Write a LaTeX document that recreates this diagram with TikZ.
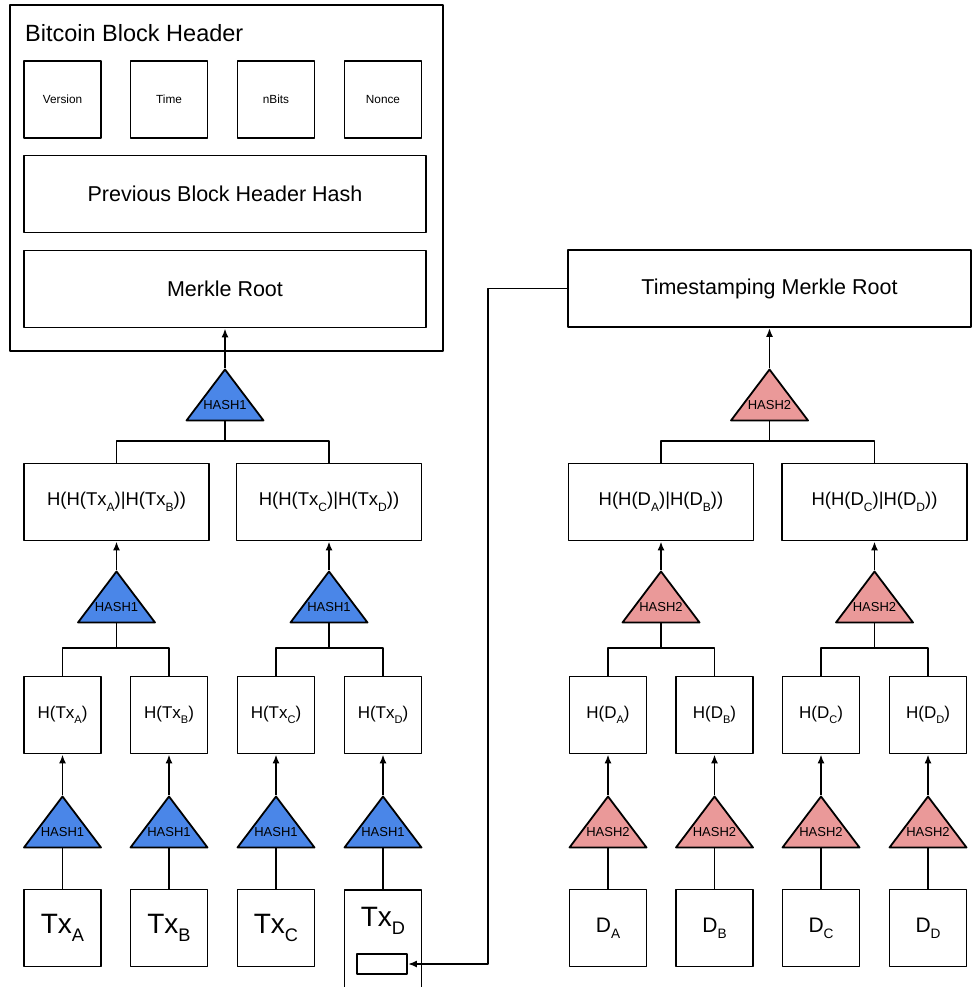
\documentclass[tikz,border=0pt]{standalone}
\usepackage{fontspec}
\usepackage{graphicx}
\setmainfont{Liberation Sans}
\usetikzlibrary{arrows.meta, positioning, shapes.geometric}

\definecolor{hashblue}{HTML}{4A86E8}
\definecolor{hashred}{HTML}{EA9999}
\newcommand{\lowsub}[1]{\raisebox{-0.3em}{\scalebox{0.65}{#1}}}

\begin{document}
\begin{tikzpicture}[x=1pt, y=-1pt, line join=round,
    box/.style={draw, line width=1.8pt, inner sep=0pt, minimum width=77pt, minimum height=77pt},
    widebox/.style={box, minimum width=402pt, font=\fontsize{21.5}{24}\selectfont},
    pairbox/.style={box, minimum width=185pt, font=\fontsize{18.5}{20}\selectfont},
    leafbox/.style={box, font=\fontsize{17}{19}\selectfont},
    hashtri/.style={draw, line width=1.8pt, isosceles triangle, shape border rotate=90,
      isosceles triangle apex angle=74, isosceles triangle stretches,
      minimum width=77pt, minimum height=51pt, inner sep=0pt, anchor=apex,
      text height=0pt, text depth=4.6pt, font=\fontsize{13}{14}\selectfont},
    hashone/.style={hashtri, fill=hashblue},
    hashtwo/.style={hashtri, fill=hashred},
    link/.style={line width=1.8pt},
    arr/.style={link, -{Latex[length=9pt, width=7pt]}}]
  \useasboundingbox (0,0) rectangle (972,987);

  % Bitcoin Block Header
  \node[draw, line width=1.8pt, minimum width=433pt, minimum height=346pt] (header) at (226.5,178) {};
  \node[anchor=base west, inner sep=0pt, font=\fontsize{23.5}{26}\selectfont] (title) at (25,42) {Bitcoin Block Header};
  \node[box, font=\fontsize{11.8}{13}\selectfont] (version) at (62.5,99.5) {Version};
  \node[box, font=\fontsize{11.8}{13}\selectfont] (time) at (169,99.5) {Time};
  \node[box, font=\fontsize{11.8}{13}\selectfont] (nbits) at (276,99.5) {nBits};
  \node[box, font=\fontsize{11.8}{13}\selectfont] (nonce) at (383,99.5) {Nonce};
  \node[widebox] (prevhash) at (225,194) {Previous Block Header Hash};
  \node[widebox] (merkle) at (225,289) {Merkle Root};

  % Transaktions-Baum (HASH1)
  \node[hashone] (h0) at (225,368) {HASH1};
  \node[pairbox] (hab) at (116.5,502) {H(H(Tx\lowsub{A})|H(Tx\lowsub{B}))};
  \node[pairbox] (hcd) at (329,502) {H(H(Tx\lowsub{C})|H(Tx\lowsub{D}))};
  \node[hashone] (h1) at (116.5,570) {HASH1};
  \node[hashone] (h2) at (329,570) {HASH1};
  \node[leafbox] (ha) at (62.5,715) {H(Tx\lowsub{A})};
  \node[leafbox] (hb) at (169,715) {H(Tx\lowsub{B})};
  \node[leafbox] (hc) at (276,715) {H(Tx\lowsub{C})};
  \node[leafbox] (hd) at (383,715) {H(Tx\lowsub{D})};
  \node[hashone] (h3) at (62.5,795) {HASH1};
  \node[hashone] (h4) at (169,795) {HASH1};
  \node[hashone] (h5) at (276,795) {HASH1};
  \node[hashone] (h6) at (383,795) {HASH1};
  \node[box, font=\fontsize{28}{30}\selectfont] (txa) at (62.5,928) {Tx\lowsub{A}};
  \node[box, font=\fontsize{28}{30}\selectfont] (txb) at (169,928) {Tx\lowsub{B}};
  \node[box, font=\fontsize{28}{30}\selectfont] (txc) at (276,928) {Tx\lowsub{C}};
  \node[box, minimum height=110pt, anchor=north] (txd) at (383,889) {};
  \node[font=\fontsize{28}{30}\selectfont] (txdlab) at (383,921) {Tx\lowsub{D}};
  \node[draw, line width=1.8pt, minimum width=50pt, minimum height=20pt, inner sep=0pt] (slot) at (382,964) {};

  % Zeitstempel-Baum (HASH2)
  \node[widebox, minimum width=403pt] (tsroot) at (769.5,288.5) {Timestamping Merkle Root};
  \node[hashtwo] (g0) at (769.5,368) {HASH2};
  \node[pairbox] (dab) at (661,502) {H(H(D\lowsub{A})|H(D\lowsub{B}))};
  \node[pairbox] (dcd) at (874.5,502) {H(H(D\lowsub{C})|H(D\lowsub{D}))};
  \node[hashtwo] (g1) at (661,570) {HASH2};
  \node[hashtwo] (g2) at (874.5,570) {HASH2};
  \node[leafbox] (da) at (608,715) {H(D\lowsub{A})};
  \node[leafbox] (db) at (714.5,715) {H(D\lowsub{B})};
  \node[leafbox] (dc) at (821,715) {H(D\lowsub{C})};
  \node[leafbox] (dd) at (928,715) {H(D\lowsub{D})};
  \node[hashtwo] (g3) at (608,795) {HASH2};
  \node[hashtwo] (g4) at (714.5,795) {HASH2};
  \node[hashtwo] (g5) at (821,795) {HASH2};
  \node[hashtwo] (g6) at (928,795) {HASH2};
  \node[box, font=\fontsize{21}{24}\selectfont] (dataa) at (608,928) {D\lowsub{A}};
  \node[box, font=\fontsize{21}{24}\selectfont] (datab) at (714.5,928) {D\lowsub{B}};
  \node[box, font=\fontsize{21}{24}\selectfont] (datac) at (821,928) {D\lowsub{C}};
  \node[box, font=\fontsize{21}{24}\selectfont] (datad) at (928,928) {D\lowsub{D}};

  % Verzweigungen
  \coordinate (j0) at (225,441);
  \coordinate (j1) at (116.5,648);
  \coordinate (j2) at (329,648);
  \coordinate (k0) at (769.5,441);
  \coordinate (k1) at (661,648);
  \coordinate (k2) at (874.5,648);
  \coordinate (bend) at (488,964);

  % Verbindungen links
  \draw[arr] (h0.apex) -- (merkle.south);
  \draw[link] (h0.lower side) -- (j0);
  \draw[link] (hab.north) |- (j0) -| (hcd.north);
  \draw[arr] (h1.apex) -- (hab.south);
  \draw[arr] (h2.apex) -- (hcd.south);
  \draw[link] (h1.lower side) -- (j1);
  \draw[link] (h2.lower side) -- (j2);
  \draw[link] (ha.north) |- (j1) -| (hb.north);
  \draw[link] (hc.north) |- (j2) -| (hd.north);
  \draw[arr] (h3.apex) -- (ha.south);
  \draw[arr] (h4.apex) -- (hb.south);
  \draw[arr] (h5.apex) -- (hc.south);
  \draw[arr] (h6.apex) -- (hd.south);
  \draw[link] (h3.lower side) -- (txa.north);
  \draw[link] (h4.lower side) -- (txb.north);
  \draw[link] (h5.lower side) -- (txc.north);
  \draw[link] (h6.lower side) -- (txd.north);

  % Verbindungen rechts
  \draw[arr] (g0.apex) -- (tsroot.south);
  \draw[link] (g0.lower side) -- (k0);
  \draw[link] (dab.north) |- (k0) -| (dcd.north);
  \draw[arr] (g1.apex) -- (dab.south);
  \draw[arr] (g2.apex) -- (dcd.south);
  \draw[link] (g1.lower side) -- (k1);
  \draw[link] (g2.lower side) -- (k2);
  \draw[link] (da.north) |- (k1) -| (db.north);
  \draw[link] (dc.north) |- (k2) -| (dd.north);
  \draw[arr] (g3.apex) -- (da.south);
  \draw[arr] (g4.apex) -- (db.south);
  \draw[arr] (g5.apex) -- (dc.south);
  \draw[arr] (g6.apex) -- (dd.south);
  \draw[link] (g3.lower side) -- (dataa.north);
  \draw[link] (g4.lower side) -- (datab.north);
  \draw[link] (g5.lower side) -- (datac.north);
  \draw[link] (g6.lower side) -- (datad.north);

  % Zeitstempel in Tx D
  \draw[arr] (tsroot.west) -| (bend) -- (slot.east);
\end{tikzpicture}
\end{document}
